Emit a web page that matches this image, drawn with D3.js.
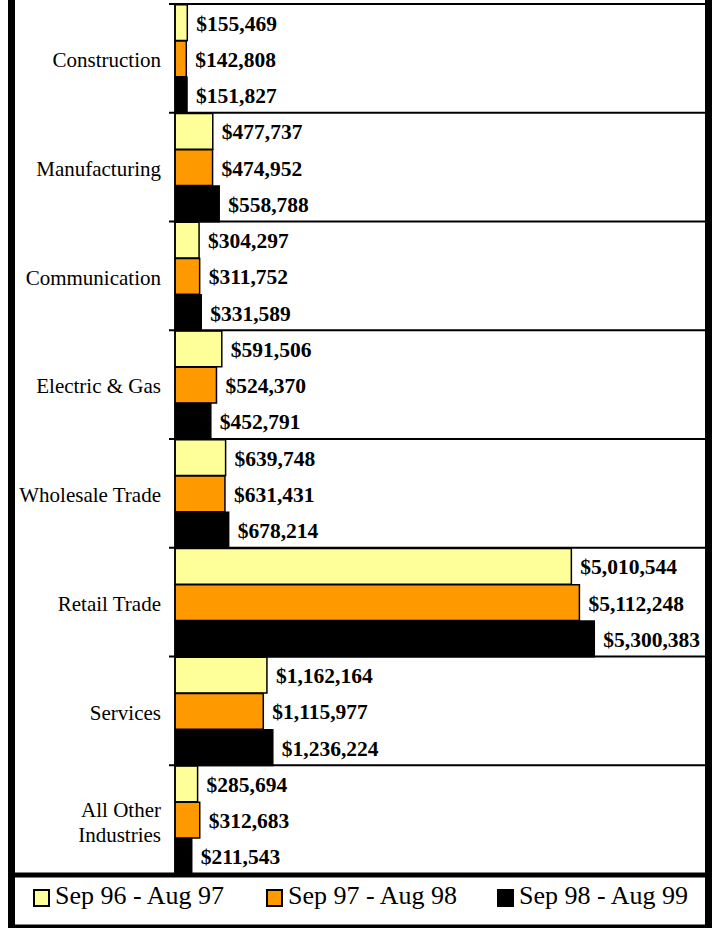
<!DOCTYPE html>
<html>
<head>
<meta charset="utf-8">
<script src="https://cdn.jsdelivr.net/npm/d3@7"></script>
<style>
  body { margin: 0; background: #fff; }
  svg text, svg tspan { font-family: "Liberation Serif", "Times New Roman", Times, serif; fill: #000; }
</style>
</head>
<body>
<div class="chart"></div>
<script>
// industries, top to bottom ("\n" = line break in the tick label)
const categories = ["Construction", "Manufacturing", "Communication", "Electric & Gas",
  "Wholesale Trade", "Retail Trade", "Services", "All Other\nIndustries"];
const periods = ["Sep 96 - Aug 97", "Sep 97 - Aug 98", "Sep 98 - Aug 99"];
const sep96 = [155469, 477737, 304297, 591506, 639748, 5010544, 1162164, 285694];
const sep97 = [142808, 474952, 311752, 524370, 631431, 5112248, 1115977, 312683];
const sep98 = [151827, 558788, 331589, 452791, 678214, 5300383, 1236224, 211543];
const colors = ["#ffff99", "#ff9900", "#000000"];

const W = 715, H = 928;
const plot = {left: 175, right: 705, top: 4, bottom: 874};
const serif = '"Liberation Serif", "Times New Roman", serif';

const series = [sep96, sep97, sep98];
const rows = categories.map((c, i) => ({cat: c, vals: series.map(s => s[i])}));

const svg = d3.select('.chart').append('svg')
  .attr('width', W)
  .attr('height', H)
  .attr('font-family', serif);

const y = d3.scaleBand()
  .domain(categories)
  .range([plot.top, plot.bottom])
  .padding(0);

const ySub = d3.scaleBand()
  .domain(d3.range(periods.length))
  .range([0, y.bandwidth()])
  .padding(0);

//axis never goes to the right edge, there is some room for the labels
const x = d3.scaleLinear()
  .domain([0, 6700000])
  .range([plot.left, plot.right]);

const fmt = d3.format("$,");

// bars
const groups = svg.append('g').selectAll('g')
  .data(rows)
  .join('g')
  .attr('transform', d => 'translate(0,' + y(d.cat) + ')');

groups.selectAll('rect')
  .data(d => d.vals)
  .join('rect')
  .attr('x', x(0))
  .attr('y', (d, i) => ySub(i) + 0.75)
  .attr('width', d => x(d) - x(0))
  .attr('height', ySub.bandwidth() - 0.5)
  .style('fill', (d, i) => colors[i])
  .style('stroke', '#000')
  .style('stroke-width', 1.5);

groups.selectAll('text')
  .data(d => d.vals)
  .join('text')
  .attr('x', d => x(d) + 9)
  .attr('y', (d, i) => ySub(i) + ySub.bandwidth() / 2)
  .attr('dy', '0.4em')
  .attr('font-family', serif)
  .style('font-size', '21.5px')
  .style('font-weight', 'bold')
  .text(d => fmt(d));

// separators between industries
const edges = categories.map(c => y(c)).concat([plot.bottom]);
svg.append('g').selectAll('line')
  .data(edges)
  .join('line')
  .attr('x1', plot.left - 6)
  .attr('x2', plot.right)
  .attr('y1', d => d)
  .attr('y2', d => d)
  .style('stroke', '#000')
  .style('stroke-width', 2);

svg.append('line')
  .attr('x1', plot.left).attr('x2', plot.left)
  .attr('y1', plot.top).attr('y2', plot.bottom)
  .style('stroke', '#000')
  .style('stroke-width', 1.5);

// category labels
svg.append('g').selectAll('text')
  .data(categories)
  .join('text')
  .attr('text-anchor', 'end')
  .attr('x', 161)
  .attr('y', d => y(d) + y.bandwidth() / 2)
  .attr('font-family', serif)
  .style('font-size', '21px')
  .each(function(d) {
    var lines = d.split('\n');
    var t = d3.select(this);
    lines.forEach((l, k) => {
      t.append('tspan')
        .attr('x', 161)
        .attr('dy', k === 0 ? (0.42 - (lines.length - 1) * 0.55) + 'em' : '1.2em')
        .text(l);
    });
  });

// frame
svg.append('line')
  .attr('x1', 11.5).attr('x2', 11.5).attr('y1', 0).attr('y2', H)
  .style('stroke', '#000').style('stroke-width', 7);
svg.append('line')
  .attr('x1', 708.5).attr('x2', 708.5).attr('y1', 0).attr('y2', H)
  .style('stroke', '#000').style('stroke-width', 7);
svg.append('line')
  .attr('x1', 8).attr('x2', 712).attr('y1', 875).attr('y2', 875)
  .style('stroke', '#000').style('stroke-width', 5);
svg.append('line')
  .attr('x1', 8).attr('x2', 712).attr('y1', 926.5).attr('y2', 926.5)
  .style('stroke', '#000').style('stroke-width', 4);

// legend
const legendX = [33, 266, 497];
const legend = svg.append('g').selectAll('g')
  .data(periods)
  .join('g')
  .attr('transform', (d, i) => 'translate(' + legendX[i] + ',889)');

legend.append('rect')
  .attr('x', 1).attr('y', 1)
  .attr('width', 15).attr('height', 16)
  .style('fill', (d, i) => colors[i])
  .style('stroke', '#000')
  .style('stroke-width', 2);

legend.append('text')
  .attr('x', 22)
  .attr('y', 15)
  .attr('font-family', serif)
  .style('font-size', '26px')
  .text(d => d);
</script>
</body>
</html>
